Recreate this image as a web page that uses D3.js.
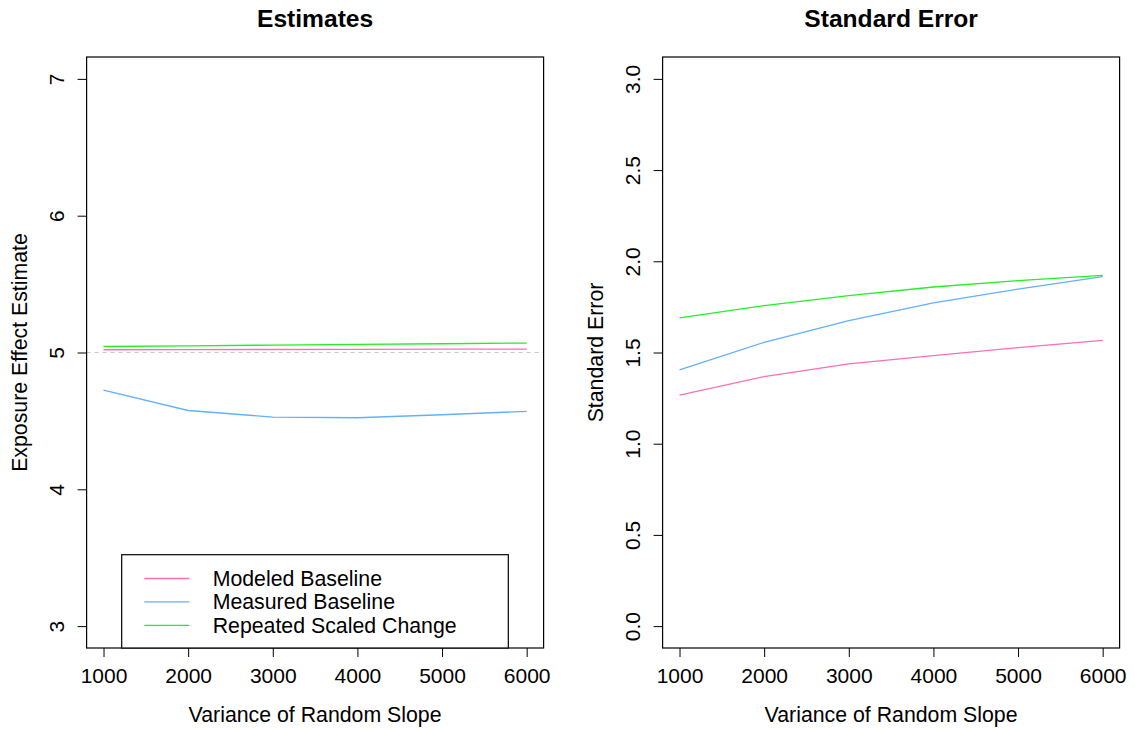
<!DOCTYPE html>
<html>
<head>
<meta charset="utf-8">
<script src="https://cdn.jsdelivr.net/npm/d3@7"></script>
<style>
  body { margin: 0; background: #fff; }
  svg { display: block; font-family: "Liberation Sans", Arial, Helvetica, sans-serif; }
  .axis path.domain { display: none; }
  .axis line { stroke: #000; stroke-width: 1; }
  .axis text { fill: #000; font-size: 21px; font-family: "Liberation Sans", Arial, sans-serif; }
</style>
</head>
<body>
<svg id="chart" width="1135" height="730"></svg>
<script>
// values
var slopeVariance = [1000, 2000, 3000, 4000, 5000, 6000];

var estModeled  = [5.020, 5.021, 5.022, 5.023, 5.024, 5.025];
var estMeasured = [4.725, 4.576, 4.528, 4.523, 4.545, 4.570];
var estRepeated = [5.044, 5.049, 5.054, 5.059, 5.064, 5.069];

var seModeled  = [1.266, 1.368, 1.438, 1.483, 1.527, 1.567];
var seMeasured = [1.405, 1.556, 1.675, 1.772, 1.848, 1.916];
var seRepeated = [1.690, 1.757, 1.812, 1.859, 1.894, 1.923];

var trueEffect = 5;

var xTicks = [1000, 2000, 3000, 4000, 5000, 6000];
var estTicks = [3, 4, 5, 6, 7];
var seTicks = [0, 0.5, 1, 1.5, 2, 2.5, 3];

var seriesNames = ["Modeled Baseline", "Measured Baseline", "Repeated Scaled Change"];
var seriesColors = ["#ff6eb4", "#63b0ff", "#22f022"];

var svg = d3.select("#chart");

// R style: axis range padded 4% on each side
function padded(lo, hi) {
  var p = (hi - lo) * 0.04;
  return [lo - p, hi + p];
}

var plotTop = 57, plotBottom = 648;

function drawPanel(opts) {
  var x = d3.scaleLinear().domain(padded(1000, 6000)).range([opts.left, opts.right]);
  var y = d3.scaleLinear().domain(padded(opts.yMin, opts.yMax)).range([plotBottom, plotTop]);

  var g = svg.append("g");

  // title
  g.append("text")
    .attr("x", (opts.left + opts.right) / 2)
    .attr("y", 27)
    .attr("text-anchor", "middle")
    .style("font-size", "24.6px")
    .style("font-weight", "bold")
    .text(opts.title);

  // reference line
  if (opts.refLine != null) {
    g.append("line")
      .attr("x1", opts.left).attr("x2", opts.right)
      .attr("y1", y(opts.refLine)).attr("y2", y(opts.refLine))
      .attr("stroke", "#c8c8c8")
      .attr("stroke-width", 1.2)
      .attr("stroke-dasharray", "4,4");
  }

  var line = d3.line()
    .x(function(d, i) { return x(slopeVariance[i]); })
    .y(function(d) { return y(d); });

  opts.series.forEach(function(s, i) {
    g.append("path")
      .datum(s)
      .attr("fill", "none")
      .attr("stroke", seriesColors[i])
      .attr("stroke-width", 1.3)
      .attr("d", line);
  });

  // axes
  var xAxis = g.append("g")
    .attr("class", "axis")
    .attr("transform", "translate(0," + plotBottom + ")")
    .call(d3.axisBottom(x).tickValues(xTicks).tickSize(9).tickFormat(d3.format("d")));
  xAxis.selectAll("text").attr("y", 35).attr("dy", 0);

  var yAxis = g.append("g")
    .attr("class", "axis")
    .attr("transform", "translate(" + opts.left + ",0)")
    .call(d3.axisLeft(y).tickValues(opts.yTicks).tickSize(9).tickFormat(opts.yFormat));
  yAxis.selectAll("text")
    .attr("x", 0).attr("y", 0).attr("dy", 0)
    .attr("text-anchor", "middle")
    .attr("transform", "translate(-22.6,0) rotate(-90)");

  // box
  g.append("rect")
    .attr("x", opts.left).attr("y", plotTop)
    .attr("width", opts.right - opts.left)
    .attr("height", plotBottom - plotTop)
    .attr("fill", "none")
    .attr("stroke", "#000")
    .attr("stroke-width", 1.2);

  // axis titles
  g.append("text")
    .attr("x", (opts.left + opts.right) / 2)
    .attr("y", 722)
    .attr("text-anchor", "middle")
    .style("font-size", "21.3px")
    .text("Variance of Random Slope");

  g.append("text")
    .attr("transform", "translate(" + (opts.left - 60) + "," + ((plotTop + plotBottom) / 2) + ") rotate(-90)")
    .attr("text-anchor", "middle")
    .style("font-size", "21.3px")
    .text(opts.yLabel);

  return { x: x, y: y, g: g };
}

var left = drawPanel({
  left: 86.6, right: 543.6,
  yMin: 3, yMax: 7,
  yTicks: estTicks, yFormat: d3.format("d"),
  title: "Estimates",
  yLabel: "Exposure Effect Estimate",
  refLine: trueEffect,
  series: [estModeled, estMeasured, estRepeated]
});

drawPanel({
  left: 662.6, right: 1119.6,
  yMin: 0, yMax: 3,
  yTicks: seTicks, yFormat: d3.format(".1f"),
  title: "Standard Error",
  yLabel: "Standard Error",
  refLine: null,
  series: [seModeled, seMeasured, seRepeated]
});

// legend in the estimates panel
var legend = left.g.append("g");
legend.append("rect")
  .attr("x", 121.7).attr("y", 554.7)
  .attr("width", 508.3 - 121.7)
  .attr("height", plotBottom - 554.7)
  .attr("fill", "#fff")
  .attr("stroke", "#000")
  .attr("stroke-width", 1.2);

seriesNames.forEach(function(name, i) {
  var ly = 578.5 + i * 23.4;
  legend.append("line")
    .attr("x1", 144.3).attr("x2", 189.3)
    .attr("y1", ly).attr("y2", ly)
    .attr("stroke", seriesColors[i])
    .attr("stroke-width", 1.3);
  legend.append("text")
    .attr("x", 212.7)
    .attr("y", ly + 7.5)
    .style("font-size", "21.3px")
    .text(name);
});
</script>
</body>
</html>
